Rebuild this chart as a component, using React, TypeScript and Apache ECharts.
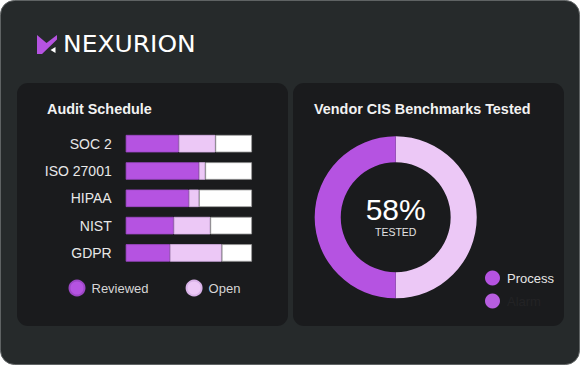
import React, { useEffect, useRef } from "react";
import * as echarts from "echarts";

const categories = ["SOC 2", "ISO 27001", "HIPAA", "NIST", "GDPR"];
const reviewed = [42, 58, 50, 38, 35];
const open = [29, 5, 8, 29, 41];
const remaining = [29, 37, 42, 33, 24];

const donutNames = ["Alarm", "Process"];
const donutValues = [50, 50];
const centerLabel = "58%";
const centerSub = "TESTED";

const PURPLE = "#b553e1";
const LIGHT = "#ecc8f6";
const FONT = "'Liberation Sans', Arial, sans-serif";

export default function App() {
  const ref = useRef<HTMLDivElement>(null);
  useEffect(() => {
    document.body.style.margin = "0";
    document.body.style.background = "#ffffff";
    const chart = echarts.init(ref.current!, undefined, { renderer: "svg" });
    chart.setOption({
      animation: false,
      textStyle: { fontFamily: FONT },
      graphic: [
        {
          type: "rect",
          z: -10,
          shape: { x: 0.5, y: 0.5, width: 579, height: 364, r: 14 },
          style: { fill: "#262a2b", stroke: "#5f6364", lineWidth: 1 },
        },
        {
          type: "rect",
          z: -9,
          shape: { x: 17, y: 83, width: 271, height: 243, r: 11 },
          style: { fill: "#1a1b1d" },
        },
        {
          type: "rect",
          z: -9,
          shape: { x: 293, y: 83, width: 271, height: 243, r: 11 },
          style: { fill: "#1a1b1d" },
        },
        {
          type: "polygon",
          shape: { points: [[37, 35], [46.5, 43], [57, 35], [57, 39.5], [42, 54], [37, 54]] },
          style: { fill: "#b553e1" },
        },
        {
          type: "polygon",
          shape: { points: [[50.5, 50], [55.5, 47], [55.5, 53]] },
          style: { fill: "#ffffff" },
        },
        {
          type: "text",
          x: 63,
          y: 44.5,
          scaleX: 1.085,
          style: {
            text: "NEXURION",
            fill: "#ffffff",
            font: "normal 23px 'DejaVu Sans', sans-serif",
            verticalAlign: "middle",
          },
        },
        {
          type: "text",
          x: 47,
          y: 109,
          style: {
            text: "Audit Schedule",
            fill: "#f2f2f2",
            font: `bold 14.4px ${FONT}`,
            verticalAlign: "middle",
          },
        },
        {
          type: "text",
          x: 314,
          y: 109,
          style: {
            text: "Vendor CIS Benchmarks Tested",
            fill: "#f2f2f2",
            font: `bold 14.4px ${FONT}`,
            verticalAlign: "middle",
          },
        },
        {
          type: "text",
          x: 395.7,
          y: 209,
          style: {
            text: centerLabel,
            fill: "#ffffff",
            font: `normal 30px ${FONT}`,
            align: "center",
            verticalAlign: "middle",
          },
        },
        {
          type: "text",
          x: 395.7,
          y: 231.5,
          style: {
            text: centerSub,
            fill: "#e2e2e2",
            font: `normal 10.5px ${FONT}`,
            align: "center",
            verticalAlign: "middle",
          },
        },
      ],
      grid: { left: 125.7, right: 329, top: 130, height: 136.6, containLabel: false },
      xAxis: { type: "value", min: 0, max: 100, show: false },
      yAxis: {
        type: "category",
        data: categories,
        inverse: true,
        axisLine: { show: false },
        axisTick: { show: false },
        splitLine: { show: false },
        axisLabel: { color: "#e8e8e8", fontSize: 14, margin: 14, fontFamily: FONT },
      },
      legend: [
        {
          data: ["Reviewed", "Open"],
          left: 63.5,
          top: 274.5,
          icon: "circle",
          itemWidth: 15,
          itemHeight: 15,
          itemGap: 37,
          selectedMode: false,
          textStyle: { color: "#d6d6d6", fontSize: 13, padding: [0, 0, 0, 2], fontFamily: FONT },
        },
        {
          data: [
            { name: "Process", itemStyle: { color: PURPLE } },
            { name: "Alarm", itemStyle: { color: "#b75ee0" }, textStyle: { color: "#232325" } },
          ],
          left: 480,
          top: 265.5,
          orient: "vertical",
          icon: "circle",
          itemWidth: 15,
          itemHeight: 15,
          itemGap: 8,
          selectedMode: false,
          textStyle: { color: "#e6e6e6", fontSize: 13, padding: [0, 0, 0, 2], fontFamily: FONT },
        },
      ],
      series: [
        {
          name: "Reviewed",
          type: "bar",
          stack: "a",
          data: reviewed,
          barWidth: 17.5,
          itemStyle: { color: PURPLE, borderColor: "#9d47c6", borderWidth: 0.8 },
          emphasis: { disabled: true },
        },
        {
          name: "Open",
          type: "bar",
          stack: "a",
          data: open,
          barWidth: 17.5,
          itemStyle: { color: LIGHT, borderColor: "#d9b3e8", borderWidth: 0.8 },
          emphasis: { disabled: true },
        },
        {
          name: "Remaining",
          type: "bar",
          stack: "a",
          data: remaining,
          barWidth: 17.5,
          itemStyle: { color: "#ffffff", borderColor: "#9a9a9a", borderWidth: 0.8 },
          emphasis: { disabled: true },
        },
        {
          name: "Benchmarks",
          type: "pie",
          center: [395.7, 217.3],
          radius: [55, 81],
          startAngle: 90,
          clockwise: true,
          label: { show: false },
          labelLine: { show: false },
          emphasis: { disabled: true },
          data: donutNames.map((n, i) => ({
            name: n,
            value: donutValues[i],
            itemStyle: { color: i === 0 ? LIGHT : PURPLE },
          })),
        },
      ],
    });
    return () => chart.dispose();
  }, []);
  return <div ref={ref} style={{ width: 581, height: 366 }} />;
}
